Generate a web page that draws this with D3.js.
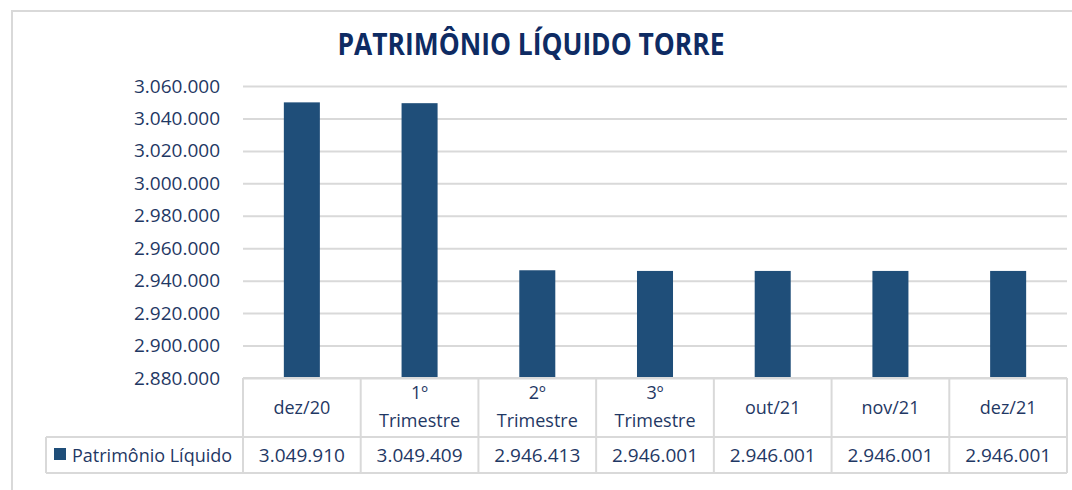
<!DOCTYPE html>
<html>
<head>
<meta charset="utf-8">
<script src="https://cdn.jsdelivr.net/npm/d3@7"></script>
<style>
  body { margin: 0; background: #fff; }
  text { font-family: "Open Sans", "Noto Sans", sans-serif; }
</style>
</head>
<body>
<svg id="chart" width="1072" height="490"></svg>
<script>
// data
var categories = ["dez/20", "1º Trimestre", "2º Trimestre", "3º Trimestre", "out/21", "nov/21", "dez/21"];
var values = [3049910, 3049409, 2946413, 2946001, 2946001, 2946001, 2946001];
var yTicks = [2880000, 2900000, 2920000, 2940000, 2960000, 2980000, 3000000, 3020000, 3040000, 3060000];
var seriesName = "Patrimônio Líquido";
var chartTitle = "PATRIMÔNIO LÍQUIDO TORRE";

var svg = d3.select("#chart");
var barColor = "#1f4e79", textColor = "#1f3864", lineColor = "#d9d9d9";

// outer chart frame (runs off the right and bottom of the picture)
svg.append("rect")
  .attr("x", 12).attr("y", 11).attr("width", 1080).attr("height", 500)
  .attr("fill", "#fff").attr("stroke", lineColor).attr("stroke-width", 2);

svg.append("text")
  .attr("x", 531).attr("y", 55)
  .attr("text-anchor", "middle")
  .attr("font-size", 30).attr("font-weight", "bold")
  .attr("fill", "#0e2b63")
  .attr("textLength", 387).attr("lengthAdjust", "spacingAndGlyphs")
  .text(chartTitle);

var plotLeft = 243, plotRight = 1067, plotTop = 86, plotBottom = 378;

var x = d3.scaleBand().domain(categories).range([plotLeft, plotRight]).paddingInner(0.694).paddingOuter(0.347);
var cols = d3.scaleBand().domain(categories).range([plotLeft, plotRight]);
var y = d3.scaleLinear().domain([2880000, 3060000]).range([plotBottom, plotTop]);

var fmt = function(v) { return d3.format(",")(v).replace(/,/g, "."); };

// gridlines + y labels
var yAxis = d3.axisLeft(y).tickValues(yTicks).tickSize(-(plotRight - plotLeft)).tickFormat(fmt).tickPadding(23);
var ga = svg.append("g").attr("transform", "translate(" + plotLeft + ",0)").call(yAxis);
ga.select(".domain").remove();
ga.selectAll(".tick line").attr("stroke", lineColor).attr("stroke-width", 2);
ga.selectAll(".tick text").attr("font-size", 19).attr("fill", textColor).attr("font-family", "'Open Sans', sans-serif");

// bars
svg.append("g").selectAll("rect").data(values).enter().append("rect")
  .attr("x", function(d, i) { return x(categories[i]); })
  .attr("width", x.bandwidth())
  .attr("y", function(d) { return y(d); })
  .attr("height", function(d) { return plotBottom - y(d); })
  .attr("fill", barColor);

// data table
var headTop = plotBottom, headBot = 437, rowBot = 473, legLeft = 46;
var tbl = svg.append("g").attr("stroke", lineColor).attr("stroke-width", 2).attr("fill", "none");
tbl.append("line").attr("x1", plotLeft).attr("x2", plotRight).attr("y1", headTop).attr("y2", headTop);
tbl.append("line").attr("x1", legLeft).attr("x2", plotRight).attr("y1", headBot).attr("y2", headBot);
tbl.append("line").attr("x1", legLeft).attr("x2", plotRight).attr("y1", rowBot).attr("y2", rowBot);
tbl.append("line").attr("x1", legLeft).attr("x2", legLeft).attr("y1", headBot).attr("y2", rowBot);
tbl.selectAll("line.v").data(categories.concat(["end"])).enter().append("line")
  .attr("x1", function(d, i) { return plotLeft + i * cols.bandwidth(); })
  .attr("x2", function(d, i) { return plotLeft + i * cols.bandwidth(); })
  .attr("y1", headTop).attr("y2", rowBot);

// header labels
var head = svg.append("g").selectAll("text").data(categories).enter().append("text")
  .attr("text-anchor", "middle")
  .attr("font-size", 18).attr("fill", textColor)
  .attr("transform", function(d) { return "translate(" + (cols(d) + cols.bandwidth() / 2) + ",0)"; });
head.each(function(d) {
  var parts = d.split(" ");
  var t = d3.select(this);
  if (parts.length == 1) {
    t.append("tspan").attr("x", 0).attr("y", 414).text(d);
  } else {
    t.append("tspan").attr("x", 0).attr("y", 399).text(parts[0]);
    t.append("tspan").attr("x", 0).attr("y", 427).text(parts[1]);
  }
});

// value row
svg.append("g").selectAll("text").data(values).enter().append("text")
  .attr("x", function(d, i) { return cols(categories[i]) + cols.bandwidth() / 2; })
  .attr("y", 462)
  .attr("text-anchor", "middle")
  .attr("font-size", 19).attr("fill", textColor)
  .text(fmt);

// legend key
svg.append("rect").attr("x", 54).attr("y", 448).attr("width", 12).attr("height", 12).attr("fill", barColor);
svg.append("text").attr("x", 72).attr("y", 462)
  .attr("font-size", 18).attr("fill", textColor)
  .text(seriesName);
</script>
</body>
</html>
